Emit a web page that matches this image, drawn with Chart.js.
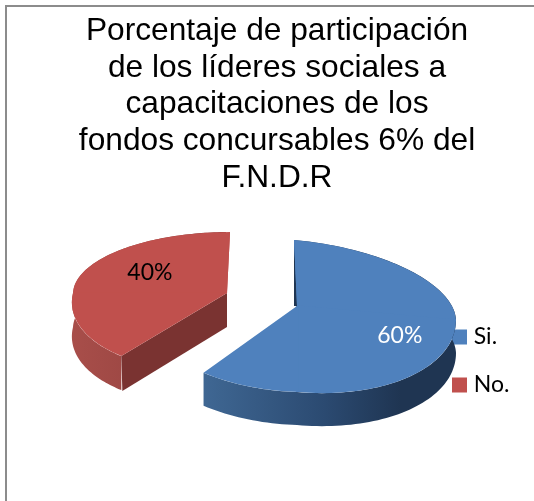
<!DOCTYPE html>
<html>
<head>
<meta charset="utf-8">
<style>
html,body{margin:0;padding:0;background:#fff;overflow:hidden}
#wrap{position:absolute;left:0;top:0;width:534px;height:501px}
canvas{display:block}
</style>
<script src="https://cdn.jsdelivr.net/npm/chart.js@4/dist/chart.umd.min.js"></script>
</head>
<body>
<div id="wrap"><canvas id="c" width="534" height="501"></canvas></div>
<script>
const titleLines = ["Porcentaje de participación","de los líderes sociales a","capacitaciones de los","fondos concursables 6% del","F.N.D.R"];
const categories = ["Si.","No."];
const values = [60,40];
const colors = ["#4f81bd","#c0504d"];
const labelColors = ["#ffffff","#000000"];

// 3D projection of each slice (presentation only)
const proj = [
  {cx:297,cy:306,rx:159,top:66,bot:86,shTop:0.045,shBot:0,kL:0.03,kR:0.088,depth:33,
   wall:[[0,"#3f6793"],[0.48,"#2b4a71"],[0.78,"#1f3552"],[1,"#1f3552"]],labelFrac:0.68,nudge:[0,2]},
  {cx:227,cy:293,rx:154,top:61,bot:78,shTop:-0.05,shBot:-0.24,kL:0,kR:0,depth:34,
   wall:[[0,"#a84e4a"],[1,"#8c3d3a"]],labelFrac:0.53,nudge:[0,-10],cut:"#7a3331"}
];

function mapPt(p,dx,dy,R){
  const sx=p.rx/R, t=dy<0, sy=(t?p.top:p.bot)/R, sh=t?p.shTop:p.shBot, k=dx<0?p.kL:p.kR;
  return [p.cx+sx*dx+sh*sy*dy, p.cy+k*sx*dx+sy*dy];
}
function face(ctx,el,p){
  const R=el.outerRadius, sx=p.rx/R;
  [[1,-1],[1,1],[-1,-1],[-1,1]].forEach(q=>{
    const t=q[1]<0, sy=(t?p.top:p.bot)/R, sh=t?p.shTop:p.shBot, k=q[0]<0?p.kL:p.kR;
    ctx.save();
    ctx.transform(sx,k*sx,sh*sy,sy,p.cx,p.cy);
    ctx.beginPath();
    ctx.rect(q[0]>0?-1:-R-5,q[1]>0?-1:-R-5,R+6,R+6);
    ctx.clip();
    ctx.translate(-el.x,-el.y);
    el.draw(ctx);
    ctx.restore();
  });
}
function wall(ctx,el,p){
  const R=el.outerRadius, n=120, pts=[];
  for(let i=0;i<=n;i++){
    const a=el.startAngle+(el.endAngle-el.startAngle)*i/n;
    pts.push(mapPt(p,R*Math.cos(a),R*Math.sin(a),R));
  }
  const xs=pts.map(q=>q[0]);
  const g=ctx.createLinearGradient(Math.min(...xs),0,Math.max(...xs),0);
  p.wall.forEach(s=>g.addColorStop(s[0],s[1]));
  ctx.save();
  if(p.cut){ctx.beginPath();ctx.rect(0,0,p.cx-1,501);ctx.clip();}
  ctx.beginPath();
  pts.forEach((q,i)=>i?ctx.lineTo(q[0],q[1]):ctx.moveTo(q[0],q[1]));
  for(let i=n;i>=0;i--)ctx.lineTo(pts[i][0],pts[i][1]+p.depth);
  ctx.closePath();
  ctx.fillStyle=g;ctx.fill();
  ctx.restore();
  return pts;
}
const pie3d={
  id:"pie3d",
  beforeLayout(chart){ if(chart.legend) chart.legend.z=1; },
  afterLayout(chart){
    const l=chart.legend;
    l.left=431.75; l.right=534; l.top=300.5; l.bottom=501;
    const t=chart.titleBlock;
    t.left=20; t.right=534;
  },
  beforeDatasetsDraw(chart){
    const ctx=chart.ctx, arcs=chart.getDatasetMeta(0).data;
    [1,0].forEach(i=>{
      const el=arcs[i], p=proj[i];
      ctx.save();
      const pts=wall(ctx,el,p);
      if(p.cut){
        const c=pts[0];
        ctx.beginPath();
        ctx.moveTo(p.cx,p.cy);ctx.lineTo(c[0],c[1]);
        ctx.lineTo(c[0]+1,c[1]+p.depth+1);ctx.lineTo(p.cx,p.cy+p.depth);
        ctx.closePath();ctx.fillStyle=p.cut;ctx.fill();
      }else{
        const top=pts[0];
        ctx.beginPath();
        ctx.moveTo(top[0],top[1]+4);ctx.lineTo(p.cx+1,p.cy);ctx.lineTo(p.cx-3,p.cy);
        ctx.closePath();ctx.fillStyle="#1f3552";ctx.fill();
      }
      face(ctx,el,p);
      ctx.restore();
    });
    // value labels
    ctx.save();
    ctx.font='23px Lato';ctx.textAlign="center";ctx.textBaseline="middle";
    arcs.forEach((el,i)=>{
      const p=proj[i],R=el.outerRadius,a=(el.startAngle+el.endAngle)/2,f=p.labelFrac;
      const q=mapPt(p,R*f*Math.cos(a),R*f*Math.sin(a),R);
      ctx.fillStyle=labelColors[i];
      ctx.fillText(values[i]+"%",q[0]+p.nudge[0],q[1]+p.nudge[1]);
    });
    ctx.restore();
    return false;
  }
};
const frame={
  id:"frame",
  beforeDraw(chart){
    const ctx=chart.ctx;
    ctx.save();ctx.fillStyle="#fff";ctx.fillRect(0,0,534,501);
    ctx.fillStyle="#8c8c8c";ctx.fillRect(5,5,529,2);ctx.fillRect(5,5,2,496);
    ctx.restore();
  }
};
new Chart(document.getElementById("c"),{
  type:"pie",
  data:{labels:categories,datasets:[{data:values,backgroundColor:colors,borderWidth:0}]},
  plugins:[frame,pie3d],
  options:{
    responsive:false,animation:false,
    events:[],
    radius:150,
    layout:{padding:0},
    plugins:{
      tooltip:{enabled:false},
      title:{display:true,text:titleLines,align:"center",color:"#000",
        font:{family:"'Liberation Sans'",size:31.7,weight:"normal",lineHeight:1.155},
        padding:{top:13,bottom:4}},
      legend:{position:"right",align:"start",
        labels:{boxWidth:5.5,boxHeight:5.5,padding:25,color:"#000",
          font:{family:"Lato",size:23},
          generateLabels(chart){
            return Chart.overrides.pie.plugins.legend.labels.generateLabels(chart).map(it=>{
              it.strokeStyle=it.fillStyle; it.lineWidth=9.5; return it;
            });
          }}}
    }
  }
});
</script>
</body>
</html>
